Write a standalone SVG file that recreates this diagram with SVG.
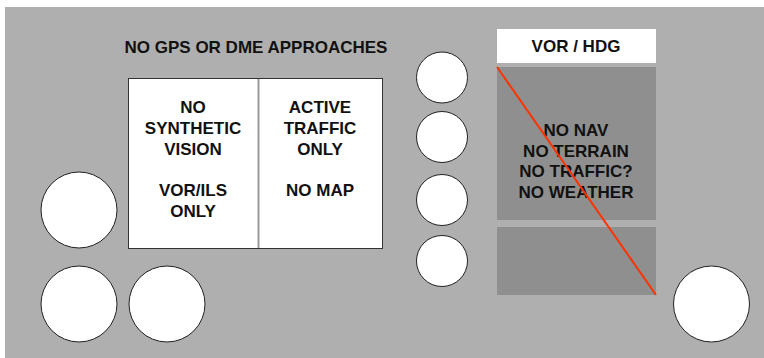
<svg xmlns="http://www.w3.org/2000/svg" width="764" height="358" viewBox="0 0 764 358">
<style>
text{font-family:"Liberation Sans",Arial,sans-serif;font-weight:bold;font-size:17px;fill:#111;text-anchor:middle}
.knob{fill:#fff;stroke:#222;stroke-width:1}
.dark{fill:#8f8f8f}
</style>
<rect width="764" height="358" fill="#fff"/>
<rect x="5" y="7" width="759" height="351" fill="#afafaf"/>
<g id="title"><text x="256" y="53">NO GPS OR DME APPROACHES</text></g>
<g id="pfd">
<rect x="128.5" y="78.5" width="254" height="170" fill="#fff" stroke="#333" stroke-width="1"/>
<line x1="258.5" y1="79" x2="258.5" y2="248" stroke="#999" stroke-width="2"/>
<text x="193" y="113">NO</text>
<text x="193" y="134">SYNTHETIC</text>
<text x="193" y="155">VISION</text>
<text x="193" y="196">VOR/ILS</text>
<text x="193" y="217">ONLY</text>
<text x="320" y="113">ACTIVE</text>
<text x="320" y="134">TRAFFIC</text>
<text x="320" y="155">ONLY</text>
<text x="320" y="196">NO MAP</text>
</g>
<g id="knob1"><circle class="knob" cx="79" cy="210" r="38"/></g>
<g id="knob2"><circle class="knob" cx="79" cy="304" r="38"/></g>
<g id="knob3"><circle class="knob" cx="167" cy="304" r="38"/></g>
<g id="btn1"><circle class="knob" cx="442" cy="77.5" r="25.5"/></g>
<g id="btn2"><circle class="knob" cx="442" cy="137" r="25.5"/></g>
<g id="btn3"><circle class="knob" cx="442" cy="200" r="25.5"/></g>
<g id="btn4"><circle class="knob" cx="442" cy="261" r="25.5"/></g>
<g id="knob4"><circle class="knob" cx="711.5" cy="304" r="38"/></g>
<g id="vorhdg">
<rect x="497" y="29" width="159" height="34" fill="#fff"/>
<text x="576" y="52">VOR / HDG</text>
</g>
<g id="mfd">
<rect class="dark" x="497" y="67" width="159" height="153"/>
<text x="576" y="136">NO NAV</text>
<text x="576" y="157">NO TERRAIN</text>
<text x="576" y="177">NO TRAFFIC?</text>
<text x="576" y="198">NO WEATHER</text>
</g>
<g id="mfd2"><rect class="dark" x="497" y="227" width="159" height="68"/></g>
<g id="connectors"><line x1="497" y1="67" x2="656" y2="295" stroke="#ff3300" stroke-width="2"/></g>
</svg>
